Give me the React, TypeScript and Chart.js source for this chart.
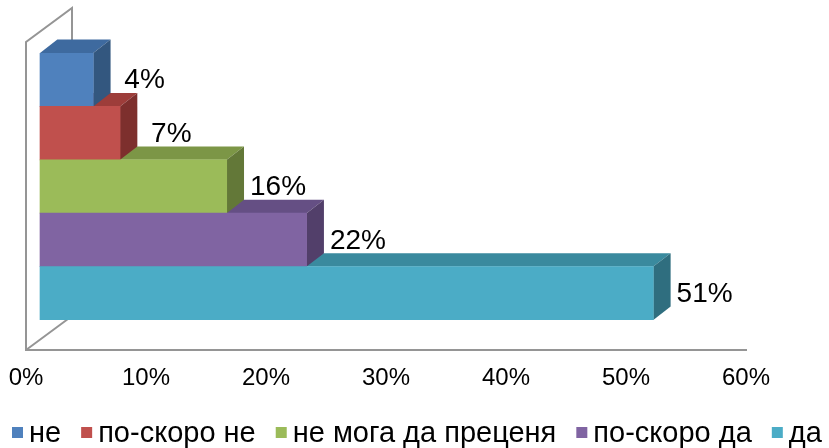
import React, { useEffect, useRef } from 'react';
import { Chart, registerables } from 'chart.js';

Chart.register(...registerables);

const categories = ['не', 'по-скоро не', 'не мога да преценя', 'по-скоро да', 'да'];
const values = [4.44, 6.67, 15.56, 22.22, 51.11];
const tickMin = 0;
const tickMax = 60;
const tickStep = 10;

const frontColors = ['#4F81BD', '#C0504D', '#9BBB59', '#8064A2', '#4BACC6'];
const topColors = ['#3E6A9F', '#9D3D3A', '#7C9646', '#654F84', '#3A8A9E'];
const sideColors = ['#33577F', '#7D2F2D', '#637838', '#523F6A', '#2F6E7F'];

const FONT = '"Liberation Sans", Arial, sans-serif';
const DEPTH_X = 17.3;
const DEPTH_Y = -13.4;
const WALL_X = 46;
const WALL_Y = -34;
const FRONT_SHIFT = 14; // px between floor front edge and bar front faces

const bars3d = {
  id: 'bars3d',
  beforeDatasetsDraw(chart: any) {
    const { ctx, chartArea } = chart;
    const sx = chart.scales.x;
    const x0 = sx.getPixelForValue(tickMin);
    const xEnd = sx.getPixelForValue(tickMax);
    const floorY = chartArea.bottom + 30;
    const wallTop = chartArea.top - 11;
    ctx.save();
    ctx.strokeStyle = '#959595';
    ctx.lineWidth = 2;
    ctx.beginPath();
    ctx.moveTo(x0 + WALL_X, floorY + WALL_Y);
    ctx.lineTo(x0 + WALL_X, wallTop + WALL_Y);
    ctx.lineTo(x0, wallTop);
    ctx.lineTo(x0, floorY);
    ctx.lineTo(xEnd + 1, floorY);
    ctx.moveTo(x0, floorY);
    ctx.lineTo(x0 + WALL_X, floorY + WALL_Y);
    ctx.stroke();

    const meta = chart.getDatasetMeta(0);
    for (let i = meta.data.length - 1; i >= 0; i--) {
      const el: any = meta.data[i];
      const top = el.y - el.height / 2;
      const bottom = el.y + el.height / 2;
      const base = el.base;
      const end = el.x;
      ctx.fillStyle = topColors[i];
      ctx.beginPath();
      ctx.moveTo(base, top);
      ctx.lineTo(end, top);
      ctx.lineTo(end + DEPTH_X, top + DEPTH_Y);
      ctx.lineTo(base + DEPTH_X, top + DEPTH_Y);
      ctx.closePath();
      ctx.fill();
      ctx.fillStyle = sideColors[i];
      ctx.beginPath();
      ctx.moveTo(end, top);
      ctx.lineTo(end + DEPTH_X, top + DEPTH_Y);
      ctx.lineTo(end + DEPTH_X, bottom + DEPTH_Y);
      ctx.lineTo(end, bottom);
      ctx.closePath();
      ctx.fill();
    }
    ctx.restore();
  },
  afterDatasetsDraw(chart: any) {
    const { ctx } = chart;
    const meta = chart.getDatasetMeta(0);
    ctx.save();
    ctx.fillStyle = '#000';
    ctx.font = `28px ${FONT}`;
    ctx.textAlign = 'center';
    ctx.textBaseline = 'middle';
    meta.data.forEach((el: any, i: number) => {
      ctx.fillText(Math.round(values[i]) + '%', el.x + DEPTH_X + 34, el.y + 1);
    });
    ctx.restore();
  },
  afterDraw(chart: any) {
    const { ctx } = chart;
    ctx.save();
    ctx.font = `29px ${FONT}`;
    ctx.textBaseline = 'alphabetic';
    ctx.textAlign = 'left';
    const box = 11;
    const boxGap = 6;
    const itemGap = 20;
    let x = 12;
    categories.forEach((c, i) => {
      ctx.fillStyle = frontColors[i];
      ctx.fillRect(x, 427, box, box);
      x += box + boxGap;
      ctx.fillStyle = '#000';
      ctx.fillText(c, x, 442);
      x += ctx.measureText(c).width + itemGap;
    });
    ctx.restore();
  },
};

export default function App() {
  const ref = useRef<HTMLCanvasElement>(null);
  useEffect(() => {
    if (!ref.current) return;
    const unit = 720 / (tickMax - tickMin);
    const shift = FRONT_SHIFT / unit;
    const chart = new Chart(ref.current, {
      type: 'bar',
      data: {
        labels: categories,
        datasets: [
          {
            data: values,
            xAxisID: 'xb',
            backgroundColor: frontColors,
            borderWidth: 0,
            barPercentage: 1,
            categoryPercentage: 1,
          },
        ],
      },
      options: {
        indexAxis: 'y',
        responsive: false,
        animation: false,
        layout: { padding: { top: 53, bottom: 38, left: 26, right: 83 } },
        plugins: { legend: { display: false }, tooltip: { enabled: false } },
        scales: {
          x: {
            type: 'linear',
            position: 'bottom',
            min: tickMin,
            max: tickMax,
            grid: {
              display: true,
              drawOnChartArea: false,
              drawTicks: true,
              tickLength: 44,
              color: 'rgba(0,0,0,0)',
            },
            border: { display: false },
            ticks: {
              stepSize: tickStep,
              padding: 0,
              color: '#000',
              font: { size: 24, family: FONT },
              callback: (v: any) => v + '%',
            },
            afterFit: (s: any) => {
              s.height = 90;
            },
          },
          xb: {
            type: 'linear',
            axis: 'x',
            display: false,
            min: tickMin - shift,
            max: tickMax - shift,
          },
          y: {
            type: 'category',
            display: false,
            offset: true,
          },
        },
      },
      plugins: [bars3d],
    });
    return () => chart.destroy();
  }, []);
  return (
    <div style={{ position: 'fixed', left: 0, top: 0, width: 829, height: 448, background: '#fff' }}>
      <canvas ref={ref} width={829} height={448} style={{ display: 'block' }} />
    </div>
  );
}
